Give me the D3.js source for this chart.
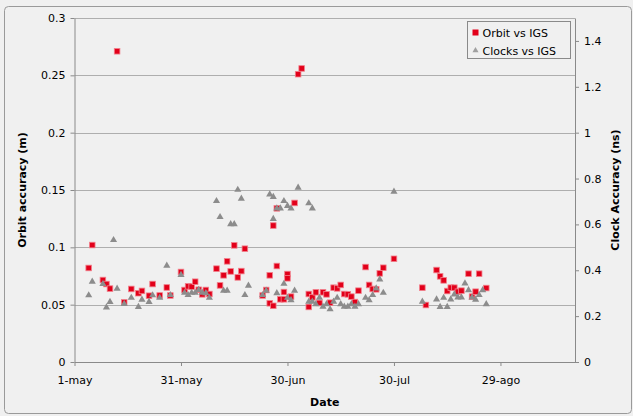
<!DOCTYPE html>
<html>
<head>
<meta charset="utf-8">
<script src="https://cdn.jsdelivr.net/npm/d3@7"></script>
<style>
  body { margin: 0; background: #fff; }
  svg { display: block; font-family: "DejaVu Sans", Verdana, sans-serif; }
</style>
</head>
<body>
<svg width="633" height="416"></svg>
<script>
// orbit accuracy vs IGS (m), left axis
let orbitDates = [
  "05-05","05-06","05-09","05-10","05-11","05-13","05-15","05-17","05-19","05-20",
  "05-22","05-23","05-25","05-27","05-28","05-31","06-01","06-02","06-03","06-04",
  "06-05","06-06","06-07","06-08","06-10","06-11","06-12","06-13","06-14","06-15",
  "06-16","06-17","06-18","06-23","06-24","06-25","06-25","06-26","06-26","06-27",
  "06-27","06-28","06-29","06-29","06-30","06-30","07-01","07-02","07-03","07-04",
  "07-06","07-06","07-07","07-08","07-09","07-10","07-11","07-12","07-13","07-14",
  "07-15","07-16","07-17","07-18","07-19","07-20","07-22","07-23","07-24","07-25",
  "07-26","07-27","07-30","08-07","08-08","08-11","08-12","08-13","08-14","08-15",
  "08-16","08-17","08-18","08-20","08-21","08-22","08-23","08-25"
];
let orbitValues = [
  0.082,0.102,0.0715,0.068,0.064,0.271,0.052,0.0637,0.060,0.062,
  0.0578,0.068,0.058,0.065,0.058,0.0785,0.0628,0.066,0.0657,0.070,
  0.063,0.059,0.0628,0.0593,0.0814,0.0668,0.0756,0.0878,0.079,0.1017,
  0.0738,0.0793,0.0988,0.058,0.0628,0.0756,0.0512,0.049,0.119,0.134,
  0.0837,0.0547,0.061,0.0547,0.0767,0.073,0.057,0.1387,0.251,0.256,
  0.0593,0.048,0.0564,0.0608,0.0515,0.0608,0.059,0.0517,0.0648,0.0642,
  0.0672,0.0593,0.059,0.057,0.0523,0.0622,0.0828,0.0672,0.0637,0.0634,
  0.0773,0.0822,0.090,0.0648,0.0497,0.0802,0.0747,0.0712,0.0619,0.0648,
  0.0648,0.0613,0.0622,0.077,0.057,0.0613,0.077,0.0645
];

// clock accuracy vs IGS (ns), right axis
let clockDates = [
  "05-05","05-06","05-09","05-10","05-11","05-12","05-13","05-15","05-17","05-19",
  "05-20","05-22","05-23","05-25","05-27","05-28","05-31","06-01","06-02","06-03",
  "06-04","06-05","06-06","06-07","06-08","06-10","06-11","06-12","06-13","06-14",
  "06-15","06-16","06-17","06-18","06-19","06-23","06-24","06-25","06-26","06-26",
  "06-27","06-27","06-28","06-29","06-29","06-30","06-30","07-01","07-01","07-02",
  "07-03","07-06","07-06","07-07","07-07","07-08","07-09","07-10","07-11","07-12",
  "07-13","07-14","07-15","07-16","07-17","07-18","07-19","07-20","07-22","07-23",
  "07-24","07-25","07-26","07-27","07-30","08-07","08-11","08-12","08-13","08-14",
  "08-15","08-16","08-17","08-18","08-19","08-20","08-21","08-22","08-23","08-24",
  "08-25"
];
let clockValues = [
  0.291,0.35,0.34,0.238,0.262,0.532,0.32,0.253,0.28,0.24,
  0.272,0.262,0.291,0.28,0.42,0.292,0.38,0.302,0.292,0.302,
  0.302,0.314,0.302,0.30,0.28,0.702,0.632,0.311,0.311,0.601,
  0.601,0.751,0.712,0.292,0.333,0.292,0.311,0.731,0.72,0.624,
  0.67,0.30,0.67,0.702,0.341,0.681,0.28,0.67,0.27,0.311,
  0.76,0.692,0.263,0.67,0.263,0.252,0.28,0.241,0.252,0.23,
  0.263,0.28,0.252,0.241,0.241,0.252,0.241,0.252,0.28,0.27,
  0.292,0.321,0.36,0.302,0.743,0.263,0.273,0.24,0.28,0.24,
  0.273,0.295,0.282,0.282,0.343,0.313,0.282,0.272,0.292,0.313,
  0.252
];

let orbitTicks = [0, 0.05, 0.1, 0.15, 0.2, 0.25, 0.3];
let clockTicks = [0, 0.2, 0.4, 0.6, 0.8, 1, 1.2, 1.4];
let dateTicks = ["05-01","05-31","06-30","07-30","08-29"];
let monthNames = ["ene","feb","mar","abr","may","jun","jul","ago","sep","oct","nov","dic"];

let parse = s => d3.utcParse("%Y-%m-%d")("2010-" + s);
let orbit = orbitDates.map((d, i) => ({date: parse(d), value: orbitValues[i]}));
let clocks = clockDates.map((d, i) => ({date: parse(d), value: clockValues[i]}));

let svg = d3.select("svg");
let margin = {top: 18, right: 58, bottom: 54, left: 74.5};
let width = 633, height = 416;

// chart background and frame
svg.append("rect").attr("width", width).attr("height", height).attr("fill", "#f0f0f0");
svg.append("rect")
  .attr("x", 4.5).attr("y", 6.5).attr("width", 627).attr("height", 407).attr("rx", 4)
  .attr("fill", "none").attr("stroke", "#9a9a9a");

let x = d3.scaleUtc()
  .domain([parse("05-01"), parse("09-19")])
  .range([margin.left, width - margin.right]);

let y = d3.scaleLinear()
  .domain([0, 0.3])
  .range([height - margin.bottom, margin.top]);

let y2 = d3.scaleLinear()
  .domain([0, 1.5])
  .range([height - margin.bottom, margin.top]);

let fmtDate = d => d.getUTCDate() + "-" + monthNames[d.getUTCMonth()];

// gridlines
svg.append("g")
  .selectAll("line").data(orbitTicks.slice(1)).enter().append("line")
  .attr("x1", margin.left).attr("x2", width - margin.right)
  .attr("y1", d => Math.round(y(d)) + 0.5).attr("y2", d => Math.round(y(d)) + 0.5)
  .attr("stroke", "#aeaeae");

let axisStyle = g => {
  g.selectAll(".domain").attr("stroke", "#8a8a8a");
  g.selectAll(".tick line").attr("stroke", "#8a8a8a");
  g.selectAll(".tick text").attr("fill", "#000").attr("font-size", 11)
    .attr("font-family", "DejaVu Sans, Verdana, sans-serif");
};

svg.append("g")
  .attr("transform", `translate(${margin.left},0)`)
  .call(d3.axisLeft(y).tickValues(orbitTicks).tickFormat(d3.format("~g")).tickSize(4).tickSizeOuter(0).tickPadding(5))
  .call(axisStyle);

svg.append("g")
  .attr("transform", `translate(${width - margin.right},0)`)
  .call(d3.axisRight(y2).tickValues(clockTicks).tickFormat(d3.format("~g")).tickSize(4).tickSizeOuter(0).tickPadding(5))
  .call(axisStyle);

svg.append("g")
  .attr("transform", `translate(0,${height - margin.bottom})`)
  .call(d3.axisBottom(x).tickValues(dateTicks.map(parse)).tickFormat(fmtDate).tickSize(4).tickSizeOuter(0).tickPadding(10))
  .call(axisStyle);

// axis titles
svg.append("text")
  .attr("transform", `translate(26,${(margin.top + height - margin.bottom) / 2}) rotate(-90)`)
  .attr("text-anchor", "middle").attr("font-size", 11).attr("font-weight", "bold")
  .text("Orbit accuracy (m)");

svg.append("text")
  .attr("transform", `translate(619,${(margin.top + height - margin.bottom) / 2}) rotate(-90)`)
  .attr("text-anchor", "middle").attr("font-size", 11).attr("font-weight", "bold")
  .text("Clock Accuracy (ns)");

svg.append("text")
  .attr("x", (margin.left + width - margin.right) / 2).attr("y", 406)
  .attr("text-anchor", "middle").attr("font-size", 11).attr("font-weight", "bold")
  .text("Date");

// orbit squares
svg.append("g")
  .selectAll("rect").data(orbit).enter().append("rect")
  .attr("x", d => x(d.date) - 2.8)
  .attr("y", d => y(d.value) - 2.8)
  .attr("width", 5.6).attr("height", 5.6)
  .attr("fill", "#e2001a").attr("stroke", "#f2808c").attr("stroke-width", 0.8);

// clock triangles
let tri = d3.symbol().type(d3.symbolTriangle).size(22);
svg.append("g")
  .selectAll("path").data(clocks).enter().append("path")
  .attr("transform", d => `translate(${x(d.date)},${y2(d.value)})`)
  .attr("d", tri)
  .attr("fill", "#8c8c8c");

// legend
let legend = svg.append("g").attr("transform", "translate(467.5,21.5)");
legend.append("rect").attr("width", 103).attr("height", 37)
  .attr("fill", "#f0f0f0").attr("stroke", "#8a8a8a");
legend.append("rect").attr("x", 5).attr("y", 8).attr("width", 6).attr("height", 6).attr("fill", "#e2001a");
legend.append("path").attr("transform", "translate(8,29)")
  .attr("d", d3.symbol().type(d3.symbolTriangle).size(16)).attr("fill", "#a0a0a0");
legend.append("text").attr("x", 15).attr("y", 15).attr("font-size", 11).text("Orbit vs IGS");
legend.append("text").attr("x", 15).attr("y", 33).attr("font-size", 11).text("Clocks vs IGS");
</script>
</body>
</html>
